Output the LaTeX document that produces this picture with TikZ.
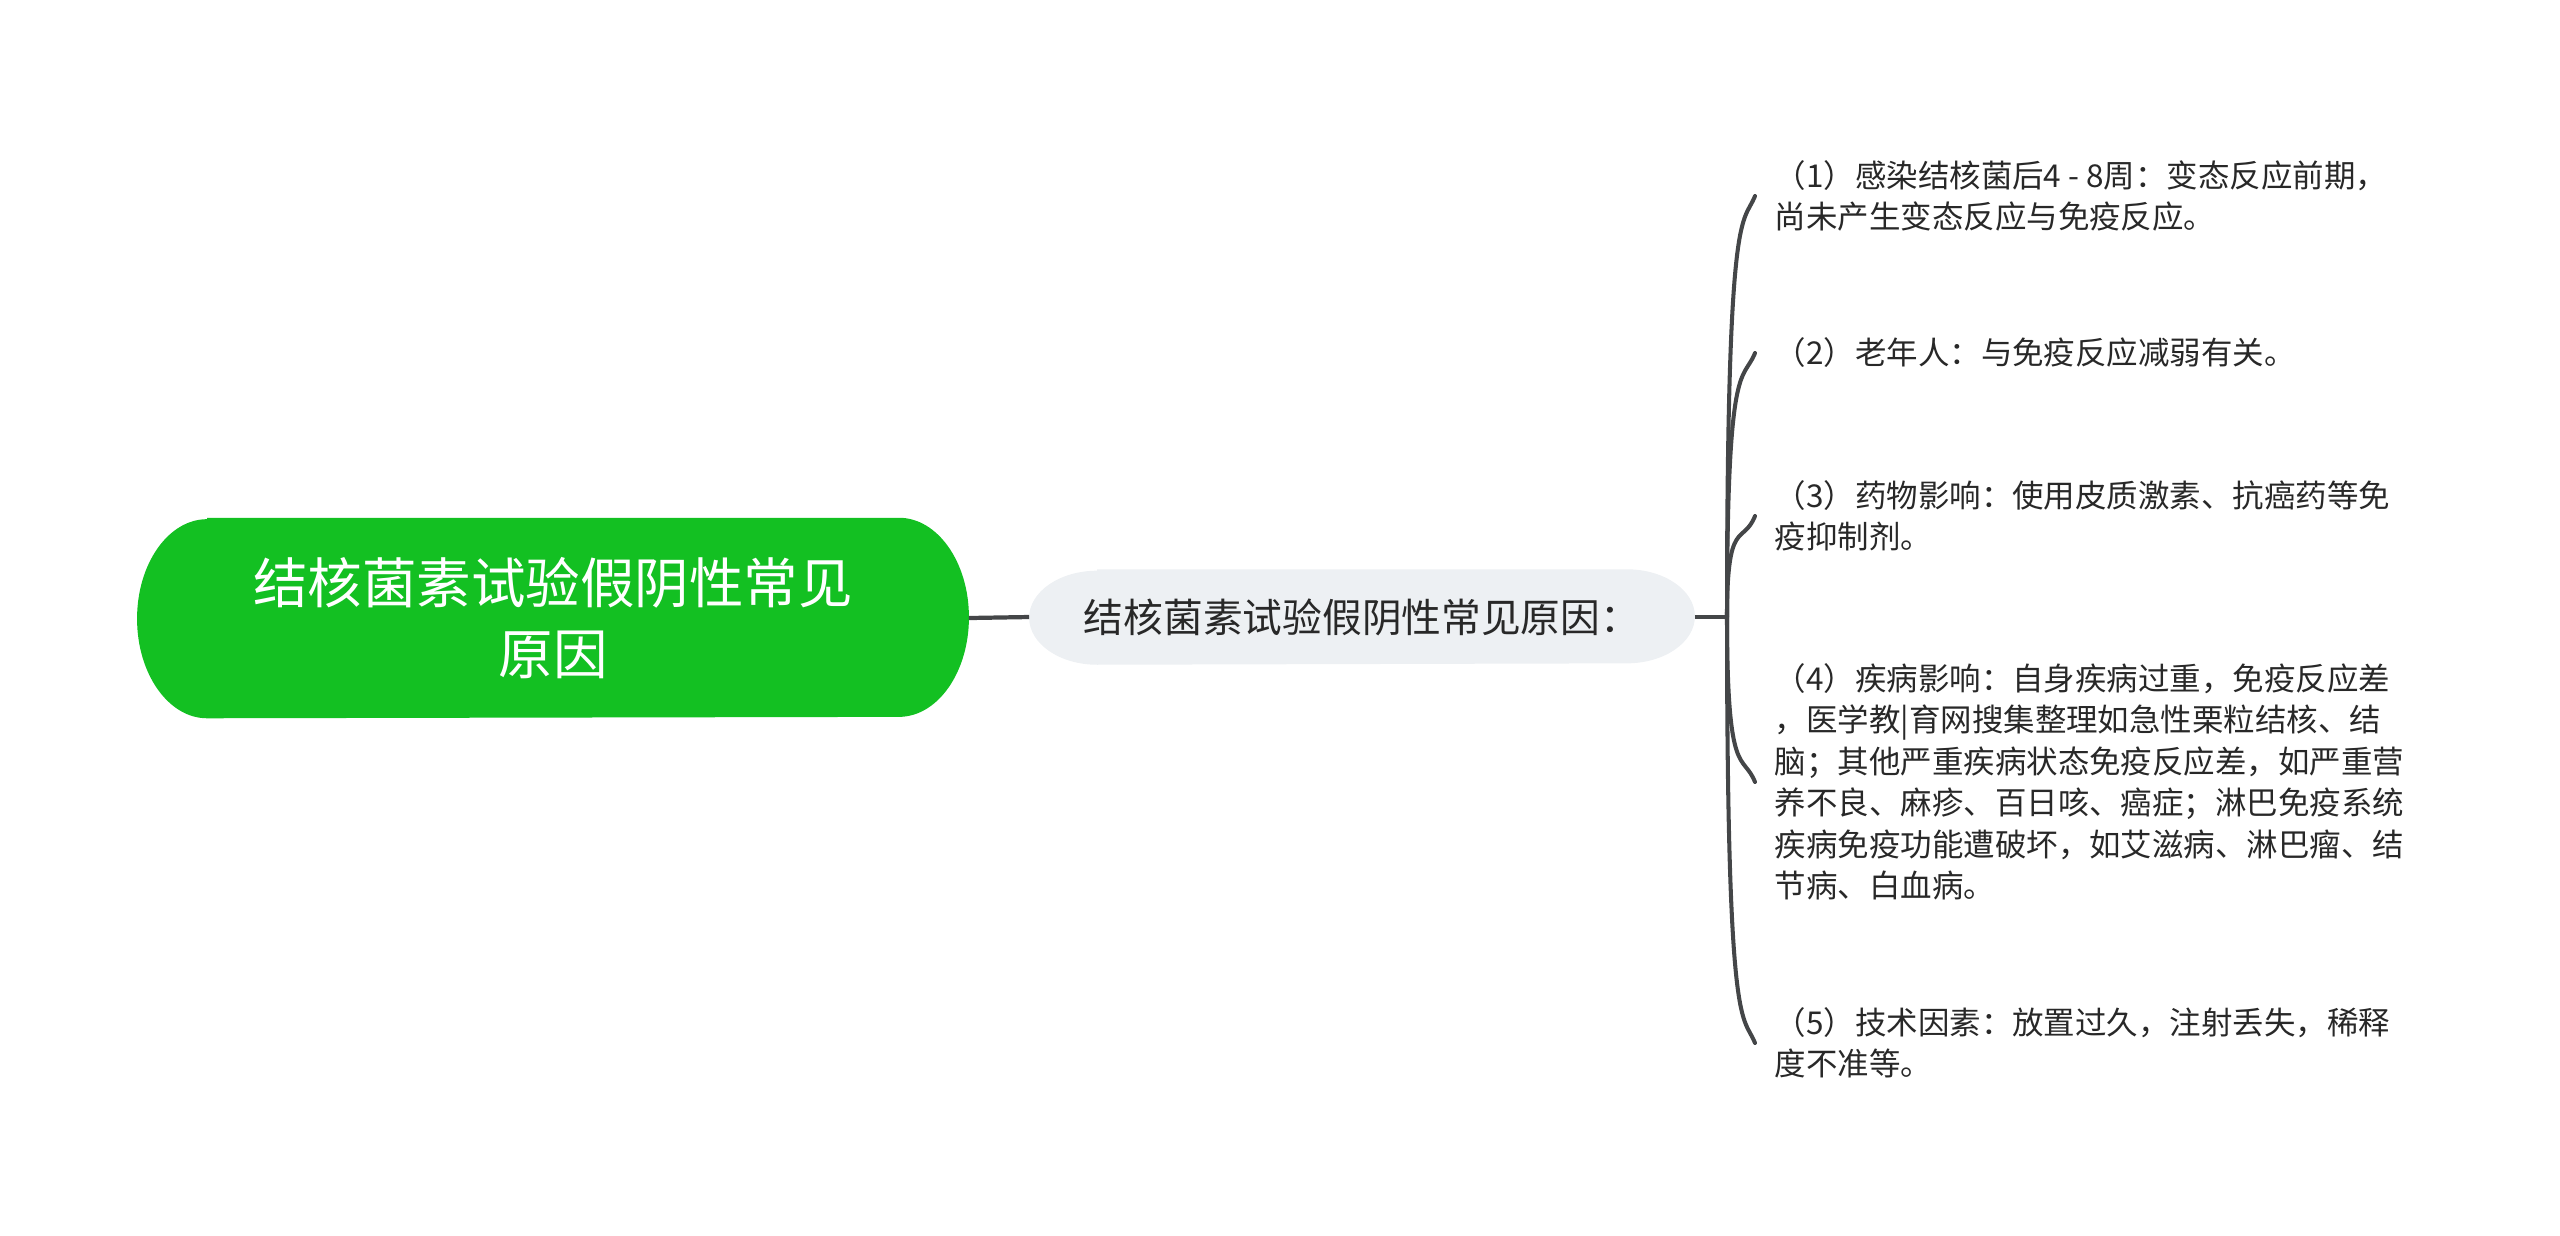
\documentclass[tikz,border=0pt]{standalone}
\usepackage{fontspec}
\setmainfont{Noto Sans CJK SC}
\usetikzlibrary{positioning,calc,backgrounds}
\lineskiplimit=-20pt
\definecolor{rootgreen}{RGB}{19,192,34}
\definecolor{subgrey}{RGB}{237,240,243}
\definecolor{linegrey}{RGB}{68,70,72}
\definecolor{textgrey}{RGB}{40,40,40}
\tikzset{rootnode/.style={text=white,align=center,minimum width=8.3cm,minimum height=1.99cm,font=\fontsize{15.5}{20.2}\selectfont}}
\tikzset{subnode/.style={text=textgrey,minimum width=6.64cm,minimum height=0.94cm,font=\fontsize{11.3}{14}\selectfont}}
\tikzset{leafnode/.style={anchor=west,align=left,text=textgrey,inner xsep=0.19cm,inner ysep=0pt,font=\fontsize{8.95}{11.8}\selectfont}}
\tikzset{link/.style={draw=linegrey,line width=1.2pt}}
\tikzset{branch/.style={draw=linegrey,line width=1.15pt,line cap=round}}

\begin{document}
\begin{tikzpicture}[x=0.01cm,y=-0.01cm]
	\useasboundingbox (0,0) rectangle (2560,1235);

	%% Main topic and its sub topic
	\node[rootnode] (root) at (553,618) {结核菌素试验假阴性常见\\原因};
	\node[subnode] (reason) at (1362,617) {结核菌素试验假阴性常见原因：};

	%% Capsules behind the two topics
	\begin{scope}[on background layer]
	\fill[rootgreen] ([xshift=0.7cm]root.north west) -- ([xshift=-0.7cm]root.north east)
		arc[start angle=90,end angle=-90,x radius=0.7cm,y radius=0.995cm]
		-- ([xshift=0.7cm]root.south west)
		arc[start angle=270,end angle=90,x radius=0.7cm,y radius=0.995cm] -- cycle;
	\fill[subgrey] ([xshift=0.68cm]reason.north west) -- ([xshift=-0.68cm]reason.north east)
		arc[start angle=90,end angle=-90,x radius=0.68cm,y radius=0.47cm]
		-- ([xshift=0.68cm]reason.south west)
		arc[start angle=270,end angle=90,x radius=0.68cm,y radius=0.47cm] -- cycle;
	\end{scope}

	%% Leaves
	\node[leafnode] (c1) at (1755,196) {（1）感染结核菌后4 - 8周：变态反应前期，\\尚未产生变态反应与免疫反应。};
	\node[leafnode] (c2) at (1755,353) {（2）老年人：与免疫反应减弱有关。};
	\node[leafnode] (c3) at (1755,516) {（3）药物影响：使用皮质激素、抗癌药等免\\疫抑制剂。};
	\node[leafnode] (c4) at (1755,782) {（4）疾病影响：自身疾病过重，免疫反应差\\，医学教|育网搜集整理如急性栗粒结核、结\\脑；其他严重疾病状态免疫反应差，如严重营\\养不良、麻疹、百日咳、癌症；淋巴免疫系统\\疾病免疫功能遭破坏，如艾滋病、淋巴瘤、结\\节病、白血病。};
	\node[leafnode] (c5) at (1755,1043) {（5）技术因素：放置过久，注射丢失，稀释\\度不准等。};

	%% Connectors
	\coordinate (fork) at (1727,617);
	\draw[link] (root.east) -- (reason.west);
	\draw[link] (reason.east) -- (fork);
	\foreach \c in {c1,c2,c3}
		\draw[branch] (fork) .. controls (fork |- \c.west) and ([shift={(-12,30)}]\c.west) .. (\c.west);
	\foreach \c in {c4,c5}
		\draw[branch] (fork) .. controls (fork |- \c.west) and ([shift={(-12,-30)}]\c.west) .. (\c.west);

\end{tikzpicture}
\end{document}
